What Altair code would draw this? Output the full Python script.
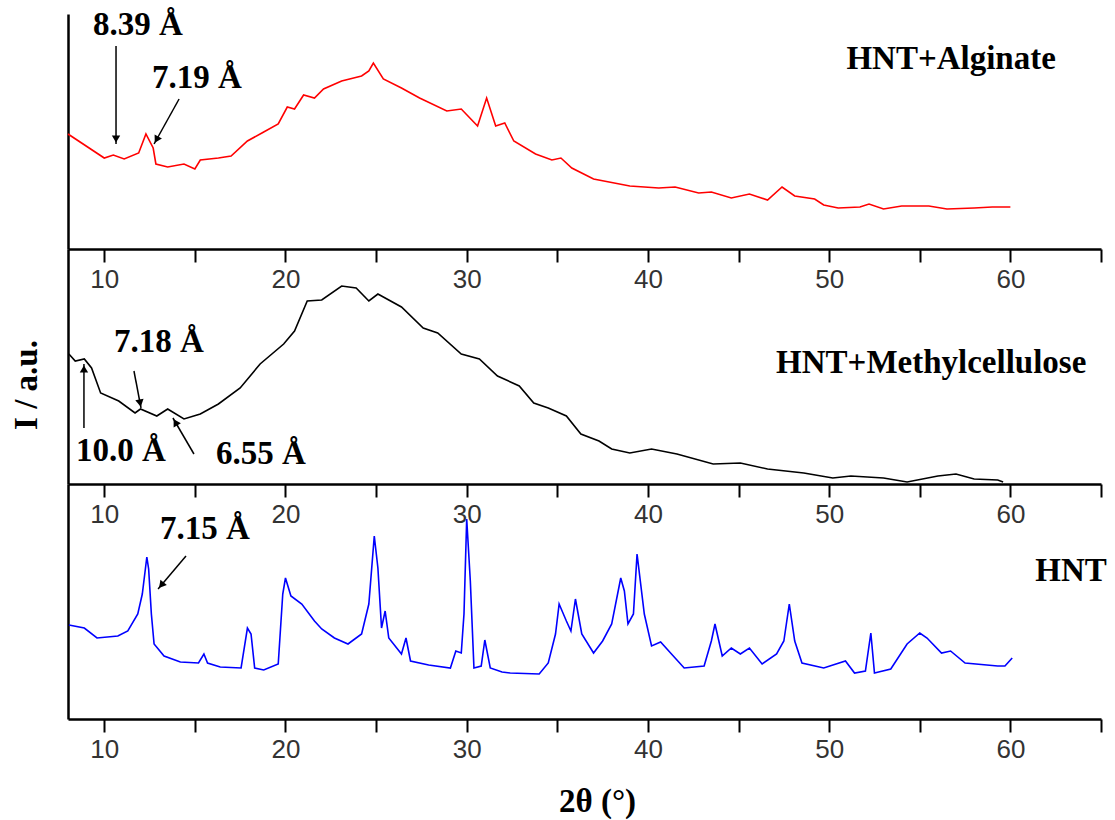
import altair as alt
import numpy as np
import pandas as pd

# ---------------- data (2θ in degrees, intensity in a.u.) ----------------
alg_2theta = [8.0, 10.0, 10.5, 11.1, 11.9, 12.3, 12.7, 12.85, 13.5, 14.4, 15.0, 15.3, 16.3, 17.0, 17.9,
              18.7, 19.6, 20.1, 20.5, 21.0, 21.6, 22.1, 23.1, 24.2, 24.6, 24.85, 25.4, 26.4, 27.4, 28.9,
              29.7, 30.6, 31.1, 31.6, 32.1, 32.6, 33.8, 34.7, 35.2, 35.8, 37.0, 39.0, 40.6, 41.5, 42.8,
              43.5, 44.6, 45.6, 46.6, 47.4, 48.1, 49.2, 49.7, 50.5, 51.7, 52.2, 53.0, 54.0, 55.5, 56.5,
              58.0, 59.0, 60.0]
alg_I = [115, 91, 94, 90, 96, 115, 101, 85, 82, 85, 80, 89, 91, 93, 108,
         116, 125, 142, 140, 154, 151, 160, 168, 173, 178, 186, 170, 161, 151, 138,
         140, 123, 151, 123, 126, 108, 95, 89, 91, 81, 70, 63, 61, 62, 56,
         57, 51, 55, 49, 62, 53, 50, 44, 41, 42, 45, 40, 43, 43, 40,
         41, 42, 42]

mc_2theta = [8.05, 8.4, 8.9, 9.3, 9.8, 10.8, 11.7, 12.0, 12.9, 13.5, 14.4, 15.3, 16.3, 17.5, 18.6,
             19.9, 20.5, 21.2, 22.0, 23.1, 23.9, 24.6, 25.1, 26.4, 27.6, 28.4, 29.7, 30.7, 31.7, 32.9,
             33.7, 34.5, 35.5, 36.3, 37.3, 38.0, 39.0, 40.2, 41.6, 43.6, 45.1, 46.6, 48.6, 50.2, 51.2,
             53.0, 54.3, 56.0, 57.0, 58.0, 59.3, 59.6]
mc_I = [130, 123, 125, 116, 91, 83, 71, 75, 68, 75, 65, 70, 80, 96, 120,
        140, 153, 183, 184, 198, 196, 183, 190, 177, 156, 151, 130, 125, 108, 98,
        81, 76, 68, 50, 43, 35, 31, 35, 30, 20, 21, 15, 11, 6, 8,
        6, 2, 8, 10, 5, 4, 2]

hnt_2theta = [8.05, 8.9, 9.6, 10.75, 11.3, 11.85, 12.1, 12.35, 12.45, 12.6, 12.75, 13.3, 14.2, 15.2, 15.5,
              15.7, 16.4, 17.55, 17.9, 18.1, 18.3, 18.8, 19.6, 19.85, 20.0, 20.3, 20.9, 21.6, 22.0, 22.7,
              23.45, 24.2, 24.6, 24.9, 25.1, 25.3, 25.5, 25.7, 26.4, 26.65, 26.9, 27.9, 29.1, 29.4, 29.7,
              29.85, 30.0, 30.2, 30.4, 30.8, 31.0, 31.3, 31.95, 32.4, 34.0, 34.5, 34.9, 35.1, 35.5, 35.75,
              36.0, 36.35, 37.0, 37.5, 38.0, 38.5, 38.7, 38.9, 39.2, 39.4, 39.8, 40.2, 40.7, 41.3, 42.0,
              43.1, 43.5, 43.7, 44.1, 44.6, 45.1, 45.6, 46.3, 47.1, 47.5, 47.8, 48.1, 48.5, 49.7, 50.9,
              51.4, 52.0, 52.3, 52.5, 53.4, 54.3, 55.0, 55.4, 56.2, 56.7, 57.5, 59.3, 59.7, 60.1]
hnt_I = [94, 91, 81, 83, 88, 105, 125, 162, 150, 105, 75, 63, 57, 56, 65,
         56, 52, 51, 91, 85, 51, 49, 55, 125, 141, 123, 115, 98, 90, 81,
         75, 85, 115, 183, 151, 91, 108, 81, 65, 81, 58, 54, 51, 68, 66,
         105, 200, 138, 51, 53, 79, 51, 47, 46, 45, 56, 85, 115, 98, 88,
         120, 85, 66, 78, 95, 141, 128, 95, 105, 165, 105, 73, 77, 65, 51,
         53, 78, 95, 63, 71, 65, 71, 55, 65, 78, 115, 78, 56, 51, 58,
         46, 48, 86, 46, 50, 75, 86, 81, 66, 68, 56, 53, 53, 61]

# annotations: d-spacing labels and arrows (data coordinates)
alg_ann_text = ["8.39 Å", "7.19 Å"]
alg_ann_x = [11.86, 15.12]
alg_ann_y = [224, 171]
alg_arr_x = [10.65, 14.13]
alg_arr_y = [203, 150]
alg_arr_x2 = [10.65, 12.75]
alg_arr_y2 = [105, 105]

mc_ann_text = ["7.18 Å", "10.0 Å", "6.55 Å"]
mc_ann_x = [13.02, 10.92, 18.65]
mc_ann_y = [142, 33, 30]
mc_arr_x = [11.64, 8.88, 14.95]
mc_arr_y = [113, 56, 30]
mc_arr_x2 = [12.03, 8.88, 13.79]
mc_arr_y2 = [76, 120, 66]

hnt_ann_text = ["7.15 Å"]
hnt_ann_x = [15.56]
hnt_ann_y = [190]
hnt_arr_x = [14.51]
hnt_arr_y = [163]
hnt_arr_x2 = [12.97]
hnt_arr_y2 = [130]

sample_names = ["HNT+Alginate", "HNT+Methylcellulose", "HNT"]
sample_x = [56.73, 55.63, 63.35]
sample_y = [190, 121, 148]
colors = ["#ff0000", "#000000", "#0000ff"]

x_ticks = list(range(10, 66, 5))
X_DOMAIN = [8, 65]
Y_DOMAIN = [0, 235]

# ---------------- chart ----------------
W, H = 1033, 235
PX_X = W / (X_DOMAIN[1] - X_DOMAIN[0])
PX_Y = H / (Y_DOMAIN[1] - Y_DOMAIN[0])
SERIF = "Liberation Serif"

xscale = alt.Scale(domain=X_DOMAIN, nice=False, zero=False)
yscale = alt.Scale(domain=Y_DOMAIN, nice=False, zero=False)


def x_axis(title=None):
    kw = dict(values=x_ticks,
              labelExpr="datum.value % 10 === 0 ? datum.label : ''",
              tickSize=13, tickWidth=2, tickColor="black",
              domainWidth=2.5, domainColor="black",
              labelFont="Liberation Sans", labelFontSize=26, labelColor="#333333",
              labelPadding=4, labelOverlap=False, grid=False)
    if title:
        kw.update(title=title, titleFont=SERIF, titleFontSize=33, titleFontWeight="bold",
                  titleColor="black", titleX=529, titleY=82, titleBaseline="middle",
                  titleAlign="center", titleAnchor="start")
    else:
        kw.update(title=None)
    return alt.Axis(**kw)


y_axis = alt.Axis(ticks=False, labels=False, domainWidth=2.5, domainColor="black",
                  grid=False, title=None)


def panel(tt, ii, color, ann_text, ann_x, ann_y, ax, ay, ax2, ay2, name, nx, ny,
          xtitle=None, ytitle=None):
    xa = x_axis(xtitle)

    def X(f):
        return alt.X(f, scale=xscale, axis=xa)

    def Y(f):
        return alt.Y(f, scale=yscale, axis=y_axis)

    line_df = pd.DataFrame({"t": tt, "I": ii})
    line = alt.Chart(line_df).mark_line(color=color, strokeWidth=1.6, interpolate="linear").encode(
        x=X("t:Q"), y=Y("I:Q"),
    )

    ann_df = pd.DataFrame({"t": ann_x, "I": ann_y, "label": ann_text})
    texts = alt.Chart(ann_df).mark_text(font=SERIF, fontWeight="bold", fontSize=33,
                                        color="black", align="center", baseline="middle").encode(
        x=X("t:Q"), y=Y("I:Q"), text="label:N",
    )

    x0, y0, x1, y1 = map(np.array, (ax, ay, ax2, ay2))
    dxp = (x1 - x0) * PX_X
    dyp = -(y1 - y0) * PX_Y
    L = np.hypot(dxp, dyp)
    ang = np.mod(np.degrees(np.arctan2(dxp, -dyp)), 360)
    back = 5.0
    hx = x1 - (x1 - x0) * back / L
    hy = y1 - (y1 - y0) * back / L
    arr_df = pd.DataFrame({"t": x0, "I": y0, "t2": x1, "I2": y1,
                           "ht": hx, "hI": hy, "ang": ang})
    shafts = alt.Chart(arr_df).mark_rule(color="black", strokeWidth=1.5).encode(
        x=X("t:Q"), x2="t2:Q", y=Y("I:Q"), y2="I2:Q",
    )
    heads = alt.Chart(arr_df).mark_point(shape="triangle-up", filled=True, color="black",
                                         size=70, opacity=1).encode(
        x=X("ht:Q"), y=Y("hI:Q"),
        angle=alt.Angle("ang:Q", scale=None),
    )

    name_df = pd.DataFrame({"t": [nx], "I": [ny], "label": [name]})
    name_txt = alt.Chart(name_df).mark_text(font=SERIF, fontWeight="bold", fontSize=33,
                                            color="black", align="center", baseline="middle").encode(
        x=X("t:Q"), y=Y("I:Q"), text="label:N",
    )
    layers = [line, shafts, heads, texts, name_txt]
    if ytitle:
        ylab = alt.Chart(pd.DataFrame({"label": [ytitle]})).mark_text(
            font=SERIF, fontWeight="bold", fontSize=33, color="black", angle=270,
            align="center", baseline="middle").encode(
            x=alt.value(-41), y=alt.value(136), text="label:N")
        layers.append(ylab)
    return alt.layer(*layers).properties(width=W, height=H)


p1 = panel(alg_2theta, alg_I, colors[0], alg_ann_text, alg_ann_x, alg_ann_y,
           alg_arr_x, alg_arr_y, alg_arr_x2, alg_arr_y2,
           sample_names[0], sample_x[0], sample_y[0])
p2 = panel(mc_2theta, mc_I, colors[1], mc_ann_text, mc_ann_x, mc_ann_y,
           mc_arr_x, mc_arr_y, mc_arr_x2, mc_arr_y2,
           sample_names[1], sample_x[1], sample_y[1], ytitle="I / a.u.")
p3 = panel(hnt_2theta, hnt_I, colors[2], hnt_ann_text, hnt_ann_x, hnt_ann_y,
           hnt_arr_x, hnt_arr_y, hnt_arr_x2, hnt_arr_y2,
           sample_names[2], sample_x[2], sample_y[2], xtitle="2θ (°)")

chart = alt.vconcat(p1, p2, p3, spacing=0, bounds="flush").properties(
    padding={"left": 10, "top": 8, "right": 5, "bottom": 5},
    background="white",
).configure_view(stroke="transparent")

chart.save("out.html", embed_options={"renderer": "svg", "actions": False})
